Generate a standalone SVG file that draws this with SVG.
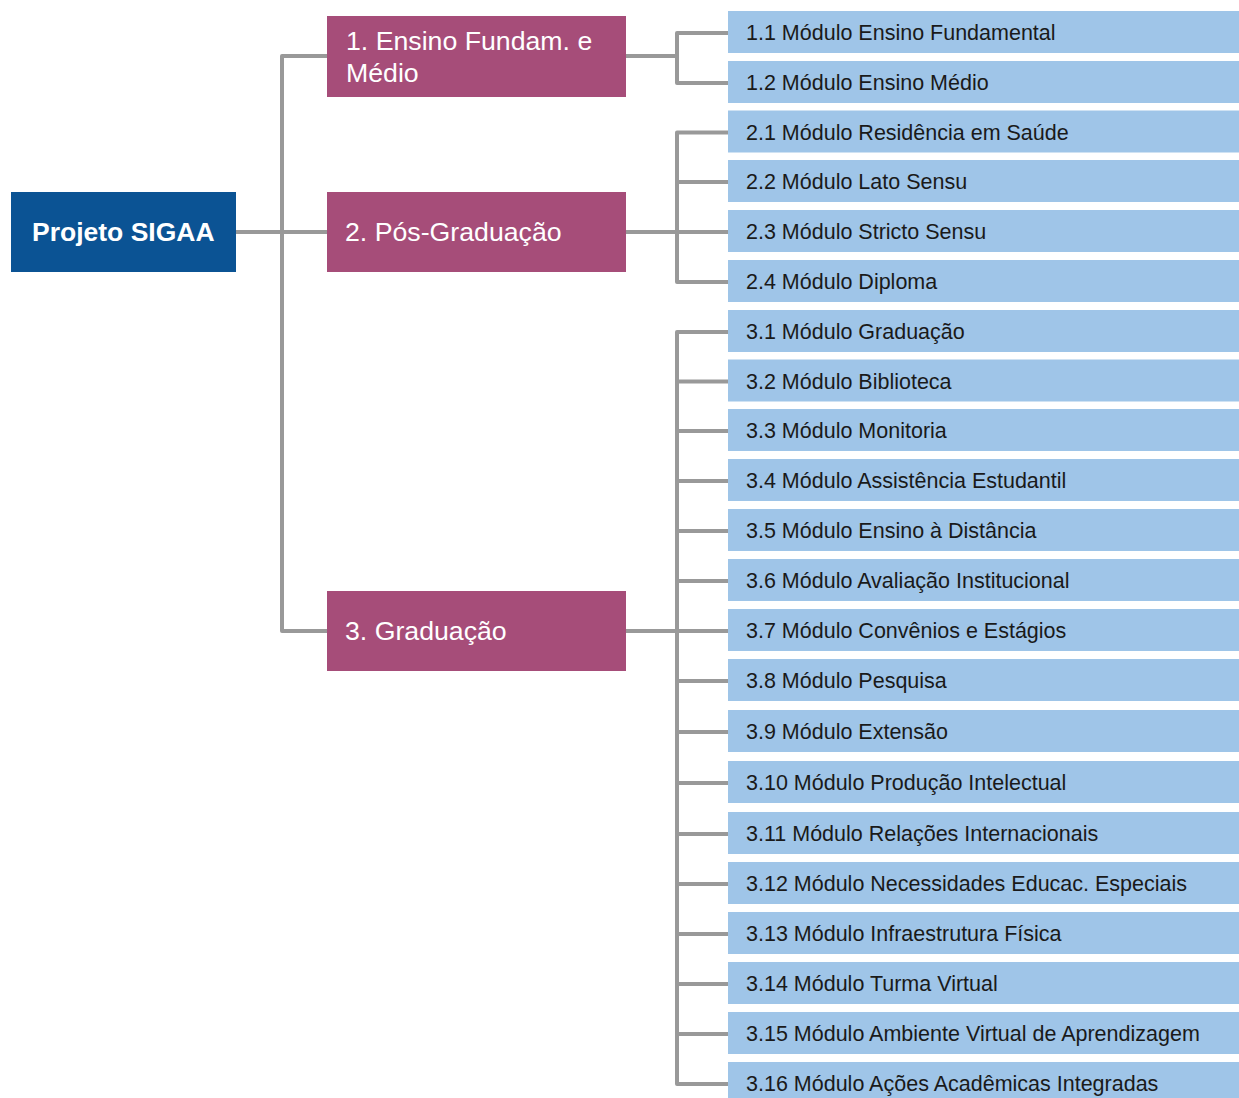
<svg xmlns="http://www.w3.org/2000/svg" width="1239" height="1098" viewBox="0 0 1239 1098">
<style>
.root{fill:#0b5394}
.mid{fill:#a64d79}
.leaf{fill:#9fc5e8}
.rt{font-family:"Liberation Sans",Arial,sans-serif;font-weight:bold;font-size:26.5px;fill:#ffffff}
.mt{font-family:"Liberation Sans",Arial,sans-serif;font-size:26.7px;fill:#ffffff}
.lt{font-family:"Liberation Sans",Arial,sans-serif;font-size:21.5px;fill:#1a1a1a}
.c{fill:none;stroke:#999999;stroke-width:4;stroke-linejoin:round}
</style>
<rect width="1239" height="1098" fill="#ffffff"/>
<g id="connectors">
<path class="c" d="M236 232H327M327 56H282V631H327"/>
<path class="c" d="M626 56H677M728 33H677V83H728"/>
<path class="c" d="M626 232H677M728 132.5H677V282H728M677 182H728M677 232H728"/>
<path class="c" d="M626 631H677M728 332H677V1084H728M677 381.5H728M677 431H728M677 481H728M677 531H728M677 581H728M677 631H728M677 681H728M677 732H728M677 783H728M677 834H728M677 884H728M677 934H728M677 984H728M677 1034H728"/>
</g>
<g id="root"><rect class="root" x="11" y="192" width="225" height="80"/><text class="rt" x="32" y="241">Projeto SIGAA</text></g>
<g id="n1"><rect class="mid" x="327" y="16" width="299" height="81"/><text class="mt" x="346" y="50">1. Ensino Fundam. e</text><text class="mt" x="346" y="82">Médio</text></g>
<g id="n2"><rect class="mid" x="327" y="192" width="299" height="80"/><text class="mt" x="345" y="241">2. Pós-Graduação</text></g>
<g id="n3"><rect class="mid" x="327" y="591" width="299" height="80"/><text class="mt" x="345" y="640">3. Graduação</text></g>
<g id="l1_1"><rect class="leaf" x="728" y="11" width="511" height="42"/><text class="lt" x="746" y="40">1.1 Módulo Ensino Fundamental</text></g>
<g id="l1_2"><rect class="leaf" x="728" y="61" width="511" height="42"/><text class="lt" x="746" y="90">1.2 Módulo Ensino Médio</text></g>
<g id="l2_1"><rect class="leaf" x="728" y="110.5" width="511" height="42"/><text class="lt" x="746" y="139.5">2.1 Módulo Residência em Saúde</text></g>
<g id="l2_2"><rect class="leaf" x="728" y="160" width="511" height="42"/><text class="lt" x="746" y="189">2.2 Módulo Lato Sensu</text></g>
<g id="l2_3"><rect class="leaf" x="728" y="210" width="511" height="42"/><text class="lt" x="746" y="239">2.3 Módulo Stricto Sensu</text></g>
<g id="l2_4"><rect class="leaf" x="728" y="260" width="511" height="42"/><text class="lt" x="746" y="289">2.4 Módulo Diploma</text></g>
<g id="l3_1"><rect class="leaf" x="728" y="310" width="511" height="42"/><text class="lt" x="746" y="339">3.1 Módulo Graduação</text></g>
<g id="l3_2"><rect class="leaf" x="728" y="359.5" width="511" height="42"/><text class="lt" x="746" y="388.5">3.2 Módulo Biblioteca</text></g>
<g id="l3_3"><rect class="leaf" x="728" y="409" width="511" height="42"/><text class="lt" x="746" y="438">3.3 Módulo Monitoria</text></g>
<g id="l3_4"><rect class="leaf" x="728" y="459" width="511" height="42"/><text class="lt" x="746" y="488">3.4 Módulo Assistência Estudantil</text></g>
<g id="l3_5"><rect class="leaf" x="728" y="509" width="511" height="42"/><text class="lt" x="746" y="538">3.5 Módulo Ensino à Distância</text></g>
<g id="l3_6"><rect class="leaf" x="728" y="559" width="511" height="42"/><text class="lt" x="746" y="588">3.6 Módulo Avaliação Institucional</text></g>
<g id="l3_7"><rect class="leaf" x="728" y="609" width="511" height="42"/><text class="lt" x="746" y="638">3.7 Módulo Convênios e Estágios</text></g>
<g id="l3_8"><rect class="leaf" x="728" y="659" width="511" height="42"/><text class="lt" x="746" y="688">3.8 Módulo Pesquisa</text></g>
<g id="l3_9"><rect class="leaf" x="728" y="710" width="511" height="42"/><text class="lt" x="746" y="739">3.9 Módulo Extensão</text></g>
<g id="l3_10"><rect class="leaf" x="728" y="761" width="511" height="42"/><text class="lt" x="746" y="790">3.10 Módulo Produção Intelectual</text></g>
<g id="l3_11"><rect class="leaf" x="728" y="812" width="511" height="42"/><text class="lt" x="746" y="841">3.11 Módulo Relações Internacionais</text></g>
<g id="l3_12"><rect class="leaf" x="728" y="862" width="511" height="42"/><text class="lt" x="746" y="891">3.12 Módulo Necessidades Educac. Especiais</text></g>
<g id="l3_13"><rect class="leaf" x="728" y="912" width="511" height="42"/><text class="lt" x="746" y="941">3.13 Módulo Infraestrutura Física</text></g>
<g id="l3_14"><rect class="leaf" x="728" y="962" width="511" height="42"/><text class="lt" x="746" y="991">3.14 Módulo Turma Virtual</text></g>
<g id="l3_15"><rect class="leaf" x="728" y="1012" width="511" height="42"/><text class="lt" x="746" y="1041">3.15 Módulo Ambiente Virtual de Aprendizagem</text></g>
<g id="l3_16"><rect class="leaf" x="728" y="1062" width="511" height="42"/><text class="lt" x="746" y="1091">3.16 Módulo Ações Acadêmicas Integradas</text></g>
</svg>
